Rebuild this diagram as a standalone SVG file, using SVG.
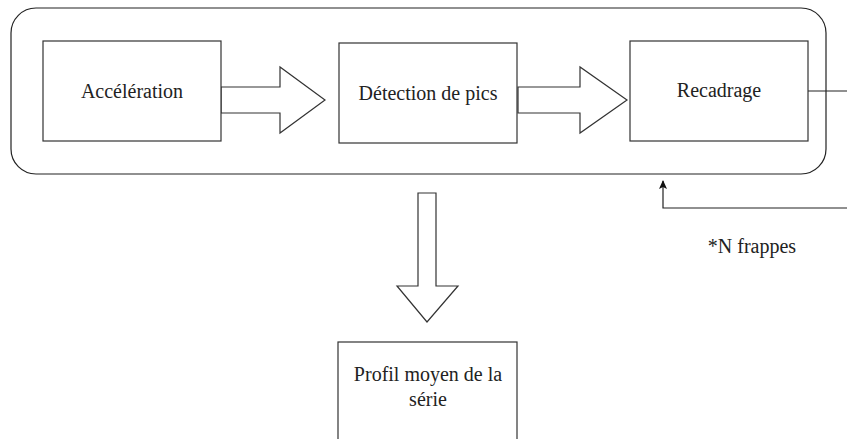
<svg xmlns="http://www.w3.org/2000/svg" width="847" height="439" viewBox="0 0 847 439">
<defs>
<style>
.box{fill:#fff;stroke:#333;stroke-width:1.2}
.frame{fill:none;stroke:#222;stroke-width:1.2}
.arr{fill:#fff;stroke:#333;stroke-width:1.2;stroke-linejoin:miter}
.ln{fill:none;stroke:#222;stroke-width:1.2}
.t{font-family:'Liberation Serif','DejaVu Serif',serif;font-size:20px;fill:#222;text-anchor:middle}
</style>
<marker id="ah" markerWidth="9" markerHeight="8" refX="8" refY="4" orient="auto" markerUnits="userSpaceOnUse" viewBox="0 0 9 8">
<path d="M0,0 L9,4 L0,8 L2,4 Z" fill="#111"/>
</marker>
</defs>
<rect class="frame" x="11" y="8" width="815" height="166" rx="25" ry="25"/>
<g id="connectors">
<path class="arr" d="M221,87 H280 V67 L325,100 L280,133 V113 H221 Z"/>
<path class="arr" d="M518,87 H580 V67 L627,100 L580,133 V113 H518 Z"/>
<path class="arr" d="M418,193 H436 V286 H458 L427,322 L397,286 H418 Z"/>
<path class="ln" d="M808,91 H847"/>
<path class="ln" d="M847,208 H663 V181" marker-end="url(#ah)"/>
</g>
<g id="acceleration">
<rect class="box" x="43" y="41" width="178" height="100"/>
<text class="t" x="132" y="98" font-family="Liberation Serif, serif">Accélération</text>
</g>
<g id="detection">
<rect class="box" x="339" y="43" width="178" height="100"/>
<text class="t" x="428" y="100">Détection de pics</text>
</g>
<g id="recadrage">
<rect class="box" x="630" y="41" width="178" height="100"/>
<text class="t" x="719" y="97">Recadrage</text>
</g>
<g id="profil">
<rect class="box" x="338" y="342" width="179" height="130"/>
<text class="t" x="428" y="381">Profil moyen de la</text>
<text class="t" x="428" y="406">série</text>
</g>
<g id="note">
<text class="t" x="752" y="253">*N frappes</text>
</g>
</svg>
